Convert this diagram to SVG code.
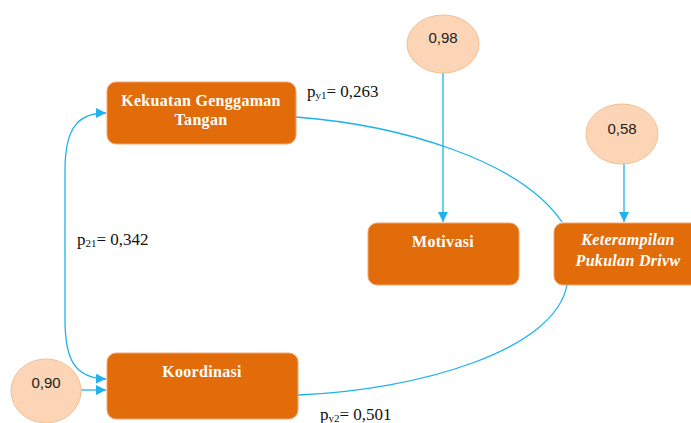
<svg xmlns="http://www.w3.org/2000/svg" width="691" height="423" viewBox="0 0 691 423">
<style>
.box{fill:#E36C0A;stroke:#F2A66E;stroke-width:1}
.err{fill:#FBD5B5;stroke:#F6BE92;stroke-width:1}
.bt{font-family:"Liberation Serif",serif;font-weight:bold;font-size:16px;letter-spacing:0.3px;fill:#FFFFFF;text-anchor:middle}
.et{font-family:"Liberation Sans",Arial,sans-serif;font-size:15px;fill:#222222;text-anchor:middle}
.lt{font-family:"Liberation Serif",serif;font-size:17px;fill:#111111}
.sub{font-size:11px}
.c{fill:none;stroke:#1EB2EE;stroke-width:1.3}
</style>
<defs>
<marker id="ah" viewBox="0 0 10 10" refX="10" refY="5" markerWidth="10" markerHeight="10" markerUnits="userSpaceOnUse" orient="auto-start-reverse">
<path d="M0,0 L10,5 L0,10 z" fill="#1EB2EE"/>
</marker>
</defs>
<g id="connectors">
<path class="c" d="M443 73 L443 222" marker-end="url(#ah)"/>
<path class="c" d="M624 164 L624 222" marker-end="url(#ah)"/>
<path class="c" d="M81 390 L106 390" marker-end="url(#ah)"/>
<path class="c" d="M106 113 C80 113 65 125 65 170 L65 320 C65 360 75 378 106 379" marker-start="url(#ah)" marker-end="url(#ah)"/>
<path class="c" d="M296 117 C400 125 520 160 562 222"/>
<path class="c" d="M298 395 C420 390 555 350 567 285"/>
</g>
<g id="kekuatan">
<rect class="box" x="107" y="82" width="189" height="62" rx="9"/>
<text class="bt" x="201" y="106">Kekuatan Genggaman</text>
<text class="bt" x="201" y="125">Tangan</text>
</g>
<g id="koordinasi">
<rect class="box" x="107" y="353" width="191" height="66" rx="9"/>
<text class="bt" x="202" y="377">Koordinasi</text>
</g>
<g id="motivasi">
<rect class="box" x="368" y="223" width="151" height="62" rx="9"/>
<text class="bt" x="443" y="247">Motivasi</text>
</g>
<g id="keterampilan">
<rect class="box" x="554" y="223" width="146" height="62" rx="9"/>
<text class="bt" x="628" y="245" font-style="italic">Keterampilan</text>
<text class="bt" x="628" y="266" font-style="italic">Pukulan Drivw</text>
</g>
<g id="e098">
<ellipse class="err" cx="443" cy="44" rx="36" ry="29"/>
<text class="et" x="443" y="43">0,98</text>
</g>
<g id="e058">
<ellipse class="err" cx="622" cy="134" rx="36" ry="30"/>
<text class="et" x="622" y="134">0,58</text>
</g>
<g id="e090">
<ellipse class="err" cx="46" cy="391" rx="35" ry="32"/>
<text class="et" x="46" y="388">0,90</text>
</g>
<g id="labels">
<text class="lt" x="307" y="97">p<tspan class="sub" dy="2">y1</tspan><tspan dy="-2">= 0,263</tspan></text>
<text class="lt" x="77" y="245">p<tspan class="sub" dy="2">21</tspan><tspan dy="-2">= 0,342</tspan></text>
<text class="lt" x="320" y="420">p<tspan class="sub" dy="2">y2</tspan><tspan dy="-2">= 0,501</tspan></text>
</g>
</svg>
